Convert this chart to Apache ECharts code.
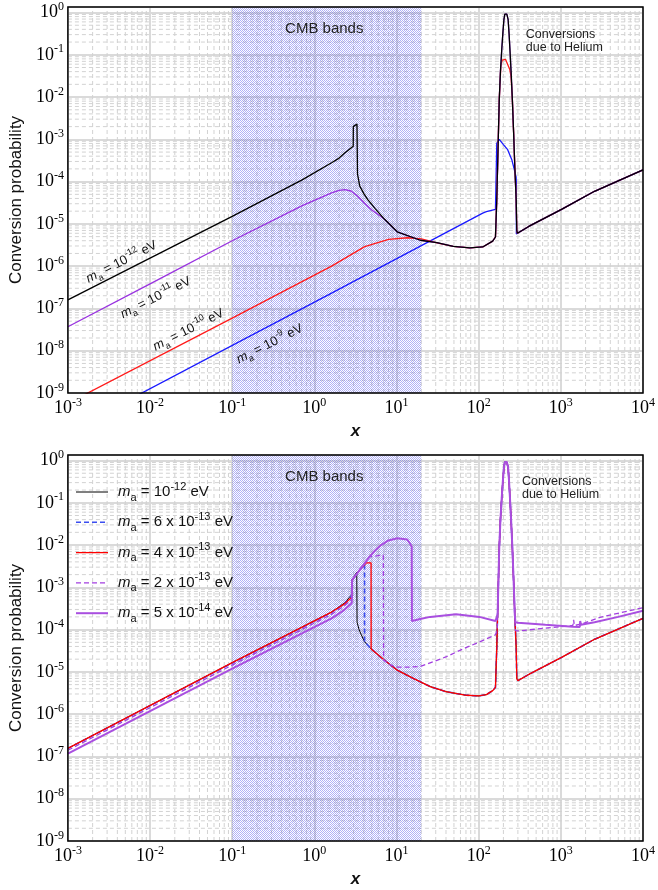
<!DOCTYPE html>
<html>
<head>
<meta charset="utf-8">
<title>Conversion probability</title>
<script src="https://cdn.jsdelivr.net/npm/echarts@6.0.0/dist/echarts.min.js"></script>
<style>
  html, body { margin: 0; padding: 0; background: #fff; }
  #chart { width: 658px; height: 890px; }
</style>
</head>
<body>
<div id="chart"></div>
<script>
// ---- values ----
// top panel: shared tail (black lower curve, He peak, rising line)
const topTailX = [10.2, 19.5, 31, 49, 78, 112, 148, 160, 165, 166, 168, 170, 174, 178, 184, 191, 197, 203, 208, 214, 220, 228, 234, 240, 248, 257, 266, 275, 280, 286, 291, 296, 407, 1020, 2570, 10000];
const topTailY = [6.5e-6, 4.1e-6, 3.6e-6, 2.95e-6, 2.7e-6, 2.85e-6, 3.9e-6, 4.9e-6, 5.1e-6, 3.7e-5, 1e-4, 2.3e-4, 1.5e-3, 8.7e-3, 0.04, 0.135, 0.33, 0.69, 0.92, 1.0, 0.92, 0.69, 0.33, 0.135, 0.04, 8.7e-3, 1.5e-3, 2.3e-4, 1e-4, 3.7e-5, 7e-6, 6e-6, 8.7e-6, 2.2e-5, 5.9e-5, 1.9e-4];
// m_a = 1e-12 eV
const topM12X = [0.001, 0.01, 0.1, 0.71, 1.62, 2.0, 2.36, 2.97, 2.98, 3.3, 3.34, 3.35, 3.57, 4.0, 4.49, 5.5, 7.1];
const topM12Y = [1.6e-7, 1.55e-6, 1.5e-5, 1.1e-4, 2.8e-4, 3.6e-4, 4.8e-4, 6.9e-4, 2.0e-3, 2.3e-3, 2.5e-3, 1.5e-4, 7.8e-5, 5.2e-5, 3.7e-5, 2.3e-5, 1.3e-5];
// m_a = 1e-11 eV
const topM11X = [0.001, 0.01, 0.1, 0.713, 1.62, 2.0, 2.36, 2.8, 3.37, 4.0, 4.9, 7.1];
const topM11Y = [3.7e-8, 3.8e-7, 4e-6, 2.7e-5, 5.4e-5, 6.2e-5, 6.5e-5, 6.0e-5, 4.5e-5, 3.2e-5, 2.2e-5, 1.3e-5];
// m_a = 1e-10 eV
const topM10X = [0.001, 0.1, 1.62, 4.1, 8, 13.5, 20, 34, 49, 78, 112, 148, 160, 165, 166, 168, 170, 174, 178, 186, 193, 200, 212, 224, 239, 248, 257, 266, 275, 280, 286, 291, 296, 407, 1020, 2570, 10000];
const topM10Y = [5.7e-10, 5.9e-8, 1e-6, 2.9e-6, 4.3e-6, 4.7e-6, 4.4e-6, 3.4e-6, 2.95e-6, 2.7e-6, 2.85e-6, 3.9e-6, 4.9e-6, 5.1e-6, 3.7e-5, 1e-4, 2.3e-4, 1.5e-3, 8.7e-3, 0.054, 0.075, 0.081, 0.078, 0.071, 0.045, 0.03, 8.7e-3, 1.5e-3, 2.3e-4, 1e-4, 3.7e-5, 7e-6, 6e-6, 8.7e-6, 2.2e-5, 5.9e-5, 1.9e-4];
// m_a = 1e-9 eV
const topM9X = [0.001, 1.62, 112, 124, 160, 165, 166, 178, 200, 224, 253, 272, 285, 287, 287.5, 296, 407, 1020, 2570, 10000];
const topM9Y = [1.2e-10, 2.3e-7, 1.8e-5, 1.95e-5, 2.2e-5, 2.3e-5, 8e-4, 1.0e-3, 7.5e-4, 5.8e-4, 3.3e-4, 1.9e-4, 1.3e-4, 1.0e-4, 5.8e-6, 6e-6, 8.7e-6, 2.2e-5, 5.9e-5, 1.9e-4];

// bottom panel: shared pieces
const botLowX = [6, 7.1, 10.2, 16, 25.7, 40, 71, 100, 124, 148, 160, 165];
const botLowY = [2.5e-5, 1.9e-5, 1.1e-5, 7e-6, 4.5e-6, 3.4e-6, 2.8e-6, 2.7e-6, 2.9e-6, 3.6e-6, 4.3e-6, 4.5e-6];
const botPeakX = [166, 168, 170, 174, 178, 184, 191, 197, 203, 208, 214, 220, 228, 234, 240, 248, 257, 266, 275];
const botPeakY = [3.7e-5, 1e-4, 2.3e-4, 1.5e-3, 8.7e-3, 0.04, 0.135, 0.33, 0.69, 0.92, 1.0, 0.92, 0.69, 0.33, 0.135, 0.04, 8.7e-3, 1.5e-3, 2.3e-4];
const botRightX = [280, 286, 291, 300, 407, 1020, 2570, 10000];
const botRightY = [1e-4, 3.7e-5, 7e-6, 6.2e-6, 8.7e-6, 2.2e-5, 5.9e-5, 1.85e-4];
// m_a = 1e-12 eV
const botM12X = [0.001, 0.1, 1.62, 2.3, 2.83, 2.86, 3.1, 3.28, 3.31, 3.5, 3.73, 4.08, 4.49, 4.9];
const botM12Y = [1.55e-7, 1.65e-5, 2.6e-4, 4.2e-4, 6.6e-4, 1.5e-3, 1.9e-3, 2.3e-3, 1.5e-4, 1.0e-4, 7.5e-5, 5.2e-5, 4.2e-5, 3.5e-5];
// m_a = 6e-13 eV
const botM6X = [0.001, 0.1, 1.62, 2.3, 2.84, 2.87, 3.1, 3.57, 4.08, 4.085, 4.49, 4.9];
const botM6Y = [1.55e-7, 1.62e-5, 2.55e-4, 4.1e-4, 6.2e-4, 1.5e-3, 1.8e-3, 2.6e-3, 3.6e-3, 5.2e-5, 4.2e-5, 3.5e-5];
// m_a = 4e-13 eV
const botM4X = [0.001, 0.1, 1.62, 2.3, 2.85, 2.88, 3.1, 3.57, 4.29, 4.9, 4.91];
const botM4Y = [1.55e-7, 1.65e-5, 2.6e-4, 4.0e-4, 5.8e-4, 1.5e-3, 1.8e-3, 2.6e-3, 3.8e-3, 3.8e-3, 3.5e-5];
// m_a = 2e-13 eV
const botM2X = [0.001, 0.1, 1.62, 2.3, 2.85, 2.88, 3.1, 3.57, 4.09, 4.7, 4.9, 6.9, 6.96, 8.5, 10.2, 14.7, 19.5, 34, 40.6, 71, 100, 160, 165];
const botM2Y = [1.4e-7, 1.45e-5, 2.3e-4, 3.6e-4, 5.2e-4, 1.5e-3, 1.8e-3, 2.6e-3, 3.7e-3, 5.3e-3, 5.8e-3, 5.8e-3, 1.9e-5, 1.45e-5, 1.3e-5, 1.3e-5, 1.35e-5, 2.0e-5, 2.3e-5, 3.8e-5, 5e-5, 7.5e-5, 7.6e-5];
const botM2RightX = [280, 300, 650, 1400, 1430, 1460, 1770, 3000, 10000];
const botM2RightY = [9.5e-5, 9.3e-5, 1.08e-4, 1.25e-4, 1.7e-4, 1.25e-4, 1.35e-4, 1.95e-4, 3.3e-4];
// m_a = 5e-14 eV
const botM05X = [0.001, 0.1, 1.62, 2.3, 2.85, 2.88, 3.1, 3.57, 4.09, 4.7, 5.39, 6.48, 7.8, 10.2, 13.5, 14.7, 15.3, 15.4, 20, 25.7, 53, 102, 160, 165];
const botM05Y = [1.17e-7, 1.2e-5, 1.85e-4, 2.9e-4, 4.2e-4, 1.5e-3, 1.8e-3, 2.6e-3, 3.7e-3, 5.3e-3, 7.2e-3, 0.01, 0.0126, 0.0145, 0.0135, 0.0106, 0.0092, 1.6e-4, 1.8e-4, 2.0e-4, 2.3e-4, 2.0e-4, 1.6e-4, 1.6e-4];
const botM05RightX = [280, 300, 650, 1400, 1700, 1720, 1760, 2570, 5000, 10000];
const botM05RightY = [1.5e-4, 1.45e-4, 1.3e-4, 1.17e-4, 1.15e-4, 1.6e-4, 1.3e-4, 1.5e-4, 2.0e-4, 2.8e-4];

// CMB band (x range) and legend
const cmbBand = [0.1, 20];
const legendNames = ['1e-12', '6e-13', '4e-13', '2e-13', '5e-14'];
const legendCoef = ['', '6', '4', '2', '5'];
const legendExp = ['-12', '-13', '-13', '-13', '-14'];

const X_MIN = 1e-3, X_MAX = 1e4, Y_MIN = 1e-9, Y_MAX = 1.35;
const SANS = 'Liberation Sans, Arial, sans-serif';
const SERIF = 'Liberation Serif, Times New Roman, serif';

const chart = echarts.init(document.getElementById('chart'));

function pairs(xs, ys) {
  return xs.map((x, i) => [x, ys[i]]);
}

// blue stipple used for the CMB bands
const pat = document.createElement('canvas');
pat.width = 4;
pat.height = 4;
const pctx = pat.getContext('2d');
pctx.fillStyle = 'rgba(70,70,235,0.42)';
for (let y = 0; y < 4; y++) {
  for (let x = 0; x < 4; x++) {
    if ((x + y) % 2 === 0) pctx.fillRect(x, y, 1, 1);
  }
}

// minor grid positions (2..9 x 10^n)
const minorX = [];
const minorY = [];
for (let e = -3; e < 4; e++) for (let k = 2; k <= 9; k++) minorX.push(k * Math.pow(10, e));
for (let e = -9; e < 0; e++) for (let k = 2; k <= 9; k++) minorY.push(k * Math.pow(10, e));

function tickLabel(v) {
  const l = Math.log10(v);
  const e = Math.round(l);
  if (Math.abs(l - e) > 1e-6) return '';
  return '{b|10}{s|' + e + '}';
}
const tickRich = {
  b: { fontFamily: SERIF, fontSize: 18, lineHeight: 23, color: '#000' },
  s: { fontFamily: SERIF, fontSize: 12, lineHeight: 12, verticalAlign: 'top', color: '#000' }
};

function xAxis(gi) {
  return {
    type: 'log', gridIndex: gi, min: X_MIN, max: X_MAX,
    axisLine: { show: false }, axisTick: { show: false },
    splitLine: { show: true, lineStyle: { color: '#dadada', width: 2 } },
    axisLabel: { formatter: tickLabel, rich: tickRich, margin: 4 },
    name: 'x', nameLocation: 'middle', nameGap: 30,
    nameTextStyle: { fontFamily: SANS, fontSize: 17, fontStyle: 'italic', fontWeight: 'bold', color: '#111' }
  };
}
function yAxis(gi) {
  return {
    type: 'log', gridIndex: gi, min: Y_MIN, max: Y_MAX,
    axisLine: { show: false }, axisTick: { show: false },
    splitLine: { show: true, lineStyle: { color: '#dadada', width: 2 } },
    axisLabel: { formatter: tickLabel, rich: tickRich, margin: 4 },
    name: 'Conversion probability', nameLocation: 'middle', nameGap: 39,
    nameTextStyle: { fontFamily: SANS, fontSize: 17, color: '#111' }
  };
}

function line(name, gi, data, color, width, type) {
  return {
    name: name, type: 'line', xAxisIndex: gi, yAxisIndex: gi, z: 2,
    data: data, showSymbol: false, symbol: 'none', smooth: false,
    lineStyle: { color: color, width: width, type: type || 'solid' },
    itemStyle: { color: color },
    emphasis: { disabled: true }, silent: true, animation: false
  };
}

// dashed minor grid lines, drawn through the axes
function minorGrid(gi, vertical) {
  return {
    type: 'custom', xAxisIndex: gi, yAxisIndex: gi, silent: true, z: 1, animation: false,
    data: vertical ? minorX.map(v => [v, 1]) : minorY.map(v => [1, v]),
    encode: { x: 0, y: 1 },
    renderItem: function (params, api) {
      const v = api.value(vertical ? 0 : 1);
      const a = vertical ? api.coord([v, Y_MIN]) : api.coord([X_MIN, v]);
      const b = vertical ? api.coord([v, Y_MAX]) : api.coord([X_MAX, v]);
      return {
        type: 'line', shape: { x1: a[0], y1: a[1], x2: b[0], y2: b[1] },
        style: { stroke: '#d2d2d2', lineWidth: 1, lineDash: [4, 3] }
      };
    }
  };
}

// stippled CMB band
function band(gi) {
  return {
    type: 'custom', xAxisIndex: gi, yAxisIndex: gi, silent: true, z: 1.5, animation: false,
    data: [[cmbBand[0], cmbBand[1]]],
    encode: { x: [0, 1] },
    renderItem: function (params, api) {
      const a = api.coord([api.value(0), Y_MAX]);
      const b = api.coord([api.value(1), Y_MIN]);
      return {
        type: 'rect', shape: { x: a[0], y: a[1], width: b[0] - a[0], height: b[1] - a[1] },
        style: { fill: { image: pat, repeat: 'repeat' } }
      };
    }
  };
}

const topSeries = [
  line('top9', 0, pairs(topM9X, topM9Y), '#1a1aff', 1.3),
  line('top10', 0, pairs(topM10X, topM10Y), '#ff1a1a', 1.3),
  line('top11', 0, pairs(topM11X.concat(topTailX), topM11Y.concat(topTailY)), '#9932e0', 1.3),
  line('top12', 0, pairs(topM12X.concat(topTailX), topM12Y.concat(topTailY)), '#000000', 1.3)
];

const botSeries = [
  line('1e-12', 1, pairs(botM12X.concat(botLowX, botPeakX, botRightX), botM12Y.concat(botLowY, botPeakY, botRightY)), '#000000', 1),
  line('6e-13', 1, pairs(botM6X.concat(botLowX, botPeakX, botRightX), botM6Y.concat(botLowY, botPeakY, botRightY)), '#3b4ef0', 1.6, [5, 3]),
  line('4e-13', 1, pairs(botM4X.concat(botLowX, botPeakX, botRightX), botM4Y.concat(botLowY, botPeakY, botRightY)), '#ff0000', 1.3),
  line('2e-13', 1, pairs(botM2X.concat(botPeakX.slice(1), botM2RightX), botM2Y.concat(botPeakY.slice(1), botM2RightY)), '#a23ee0', 1.3, [5, 3]),
  line('5e-14', 1, pairs(botM05X.concat(botPeakX.slice(2), botM05RightX), botM05Y.concat(botPeakY.slice(2), botM05RightY)), '#a94fe0', 2)
];

function legendText(name) {
  const i = legendNames.indexOf(name);
  const coef = legendCoef[i] ? legendCoef[i] + ' x ' : '';
  return '{m|m}{a|a}{t| = ' + coef + '10}{e|' + legendExp[i] + '}{t| eV}';
}

chart.setOption({
  animation: false,
  backgroundColor: '#fff',
  grid: [
    { left: 62, top: 7, width: 584, height: 386, show: true, z: 3, backgroundColor: 'transparent', borderColor: '#000', borderWidth: 1.5 },
    { left: 62, top: 455, width: 584, height: 386, show: true, z: 3, backgroundColor: 'transparent', borderColor: '#000', borderWidth: 1.5 }
  ],
  xAxis: [xAxis(0), xAxis(1)],
  yAxis: [yAxis(0), yAxis(1)],
  legend: {
    show: true, orient: 'vertical', left: 70, top: 476,
    itemWidth: 32, itemHeight: 18, itemGap: 8.3, selectedMode: false,
    data: legendNames, formatter: legendText,
    itemStyle: { opacity: 0 },
    lineStyle: { width: 'inherit' },
    textStyle: {
      padding: [0, 0, 0, 5],
      rich: {
        m: { fontFamily: SANS, fontSize: 15, fontStyle: 'italic', lineHeight: 22, color: '#111' },
        a: { fontFamily: SANS, fontSize: 11, lineHeight: 11, verticalAlign: 'bottom', color: '#111' },
        t: { fontFamily: SANS, fontSize: 15, lineHeight: 22, color: '#111' },
        e: { fontFamily: SANS, fontSize: 11, lineHeight: 11, verticalAlign: 'top', color: '#111' }
      }
    }
  },
  series: [minorGrid(0, true), minorGrid(0, false), band(0), minorGrid(1, true), minorGrid(1, false), band(1)]
    .concat(topSeries, botSeries)
});

// annotations placed through the axes
const massLabels = [
  { x: 4.5e-3, y: 1.26e-6, exp: '-12' },
  { x: 0.0117, y: 1.8e-7, exp: '-11' },
  { x: 0.0294, y: 3.1e-8, exp: '-10' },
  { x: 0.286, y: 1.45e-8, exp: '-9' }
];
const noteRich = {
  m: { fontFamily: SANS, fontSize: 13, fontStyle: 'italic', lineHeight: 19, fill: '#111' },
  a: { fontFamily: SANS, fontSize: 9, lineHeight: 9, verticalAlign: 'bottom', fill: '#111' },
  t: { fontFamily: SANS, fontSize: 13, lineHeight: 19, fill: '#111' },
  e: { fontFamily: SANS, fontSize: 9, lineHeight: 9, verticalAlign: 'top', fill: '#111' }
};
const angle = 26.8 * Math.PI / 180;
const graphics = [];
massLabels.forEach(function (d) {
  const p = chart.convertToPixel({ gridIndex: 0 }, [d.x, d.y]);
  graphics.push({
    type: 'text', x: p[0], y: p[1], rotation: angle, silent: true, z: 10,
    style: {
      text: '{m|m}{a|a}{t| = 10}{e|' + d.exp + '}{t| eV}',
      rich: noteRich, align: 'center', verticalAlign: 'middle'
    }
  });
});
[0, 1].forEach(function (gi) {
  const c = chart.convertToPixel({ gridIndex: gi }, [1.32, gi === 0 ? 0.42 : 0.40]);
  graphics.push({
    type: 'text', x: c[0], y: c[1], silent: true, z: 10,
    style: { text: 'CMB bands', fontFamily: SANS, fontSize: 15, fill: '#222', align: 'center', verticalAlign: 'middle' }
  });
  const h = chart.convertToPixel({ gridIndex: gi }, gi === 0 ? [375, 0.21] : [336, 0.22]);
  graphics.push({
    type: 'text', x: h[0], y: h[1], silent: true, z: 10,
    style: { text: 'Conversions\ndue to Helium', fontFamily: SANS, fontSize: 12.5, lineHeight: 13, fill: '#222', align: 'left', verticalAlign: 'middle' }
  });
});
chart.setOption({ graphic: graphics });
</script>
</body>
</html>
